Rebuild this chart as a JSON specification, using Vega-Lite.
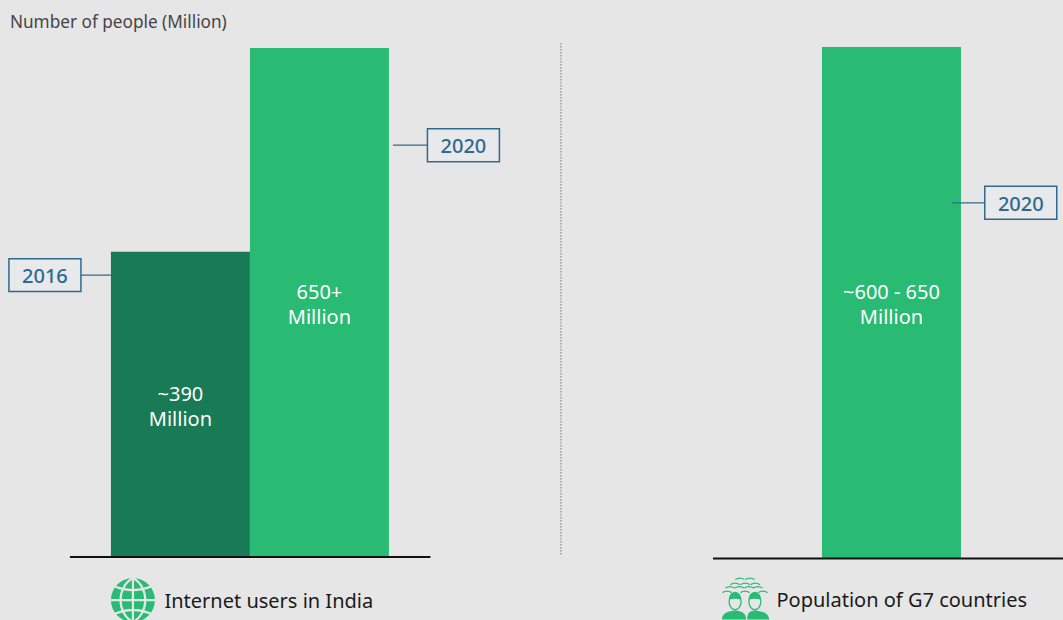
{
  "$schema": "https://vega.github.io/schema/vega-lite/v6.json",
  "background": "#e6e6e6",
  "padding": 0,
  "spacing": 90,
  "bounds": "flush",
  "config": {
    "view": {"stroke": null},
    "axis": {"disable": true},
    "text": {"font": "Noto Sans"}
  },
  "datasets": {
    "india": [
      {"year": "2016", "value": 390, "anchor": 207.5, "callout": 360, "label": "~390\nMillion"},
      {"year": "2020", "value": 650, "anchor": 337.5, "callout": 526, "label": "650+\nMillion"}
    ],
    "g7": [
      {"year": "2020", "value": 650, "anchor": 337.5, "callout": 452, "label": "~600 - 650\nMillion"}
    ]
  },
  "hconcat": [
    {
      "width": 556,
      "height": 620,
      "data": {"name": "india"},
      "encoding": {
        "x": {"field": "year", "type": "nominal", "axis": null, "sort": null,
          "scale": {"domain": ["2016", "2020"], "paddingInner": 0, "paddingOuter": 1, "align": 0.399}},
        "y": {"type": "quantitative", "axis": null,
          "scale": {"domain": [-80.46, 711.37], "nice": false, "zero": false}}
      },
      "layer": [
        {
          "mark": {"type": "bar", "width": {"band": 1}},
          "encoding": {
            "y": {"field": "value", "type": "quantitative", "axis": null},
            "color": {"field": "year", "type": "nominal", "legend": null,
              "scale": {"domain": ["2016", "2020"], "range": ["#197a56", "#29ba74"]}}
          }
        },
        {
          "mark": {"type": "text", "color": "#ffffff", "fontSize": 20, "lineBreak": "\n", "lineHeight": 25, "baseline": "middle"},
          "encoding": {
            "y": {"field": "anchor", "type": "quantitative", "axis": null},
            "text": {"field": "label"}
          }
        },
        {
          "transform": [{"filter": "datum.year === '2016'"}],
          "mark": {"type": "rule", "color": "#2e6a8e", "strokeWidth": 1.2, "xOffset": -99.5, "x2Offset": -67},
          "encoding": {
            "x2": {"field": "year"},
            "y": {"field": "callout", "type": "quantitative", "axis": null}
          }
        },
        {
          "transform": [{"filter": "datum.year === '2020'"}],
          "mark": {"type": "rule", "color": "#2e6a8e", "strokeWidth": 1.2, "xOffset": 73.5, "x2Offset": 108.5},
          "encoding": {
            "x2": {"field": "year"},
            "y": {"field": "callout", "type": "quantitative", "axis": null}
          }
        },
        {
          "transform": [{"filter": "datum.year === '2016'"}],
          "mark": {"type": "point", "shape": "M-1,-0.458H1V0.458H-1Z", "size": 5184, "filled": true, "fill": "#e7e9ea", "stroke": "#2e6a8e", "strokeWidth": 1.5, "opacity": 1, "xOffset": -135.5},
          "encoding": {"y": {"field": "callout", "type": "quantitative", "axis": null}}
        },
        {
          "transform": [{"filter": "datum.year === '2020'"}],
          "mark": {"type": "point", "shape": "M-1,-0.458H1V0.458H-1Z", "size": 5184, "filled": true, "fill": "#e7e9ea", "stroke": "#2e6a8e", "strokeWidth": 1.5, "opacity": 1, "xOffset": 144},
          "encoding": {"y": {"field": "callout", "type": "quantitative", "axis": null}}
        },
        {
          "transform": [{"filter": "datum.year === '2016'"}],
          "mark": {"type": "text", "color": "#2e6a8e", "fontSize": 20, "fontWeight": 500, "baseline": "middle", "dy": 2, "xOffset": -135.5},
          "encoding": {"y": {"field": "callout", "type": "quantitative", "axis": null}, "text": {"field": "year"}}
        },
        {
          "transform": [{"filter": "datum.year === '2020'"}],
          "mark": {"type": "text", "color": "#2e6a8e", "fontSize": 20, "fontWeight": 500, "baseline": "middle", "dy": 2, "xOffset": 144},
          "encoding": {"y": {"field": "callout", "type": "quantitative", "axis": null}, "text": {"field": "year"}}
        },
        {
          "data": {"values": [{"from": "2016", "to": "2020", "level": 0}]},
          "mark": {"type": "rule", "color": "#111111", "strokeWidth": 2, "xOffset": -110.5, "x2Offset": 111},
          "encoding": {
            "x": {"field": "from", "type": "nominal"},
            "x2": {"field": "to"},
            "y": {"field": "level", "type": "quantitative", "axis": null}
          }
        },
        {
          "data": {"values": [{"year": "2020", "top": 656.4, "bottom": 2.5}]},
          "mark": {"type": "rule", "color": "#777777", "strokeWidth": 1, "strokeDash": [1.5, 1.5], "xOffset": 241.5},
          "encoding": {
            "y": {"field": "top", "type": "quantitative", "axis": null},
            "y2": {"field": "bottom"}
          }
        },
        {
          "data": {"values": [{"year": "2016", "at": 682, "note": "Number of people (Million)"}]},
          "mark": {"type": "text", "color": "#444444", "fontSize": 17.2, "align": "left", "baseline": "middle", "xOffset": -170.5},
          "encoding": {"y": {"field": "at", "type": "quantitative", "axis": null}, "text": {"field": "note"}}
        },
        {
          "data": {"values": [{"year": "2016", "at": -58, "caption": "Internet users in India"}]},
          "mark": {"type": "text", "color": "#1a1a1a", "fontSize": 20, "align": "left", "baseline": "middle", "xOffset": -16},
          "encoding": {"y": {"field": "at", "type": "quantitative", "axis": null}, "text": {"field": "caption"}}
        },
        {
          "data": {"values": [{"year": "2016", "at": -55}]},
          "mark": {"type": "point", "shape": "circle", "filled": true, "fill": "#29ba74", "opacity": 1, "size": 1936, "xOffset": -47.5, "clip": true},
          "encoding": {"y": {"field": "at", "type": "quantitative", "axis": null}}
        },
        {
          "data": {"values": [{"year": "2016", "at": -55}]},
          "mark": {"type": "point", "shape": "M0,-1V1M-1,0H1M0,-1C-0.75,-0.6,-0.75,0.6,0,1M0,-1C0.75,-0.6,0.75,0.6,0,1M-0.82,-0.62Q0,-0.28,0.82,-0.62M-0.82,0.62Q0,0.28,0.82,0.62", "filled": false, "stroke": "#e6e6e6", "strokeWidth": 2.2, "opacity": 1, "size": 1936, "xOffset": -47.5, "clip": true},
          "encoding": {"y": {"field": "at", "type": "quantitative", "axis": null}}
        }
      ]
    },
    {
      "width": 417,
      "height": 620,
      "data": {"name": "g7"},
      "encoding": {
        "x": {"field": "year", "type": "nominal", "axis": null,
          "scale": {"domain": ["2020"], "paddingInner": 0, "paddingOuter": 1, "align": 0.633}},
        "y": {"type": "quantitative", "axis": null,
          "scale": {"domain": [-78.15, 709.66], "nice": false, "zero": false}}
      },
      "layer": [
        {
          "mark": {"type": "bar", "color": "#29ba74", "width": {"band": 1}},
          "encoding": {"y": {"field": "value", "type": "quantitative", "axis": null}}
        },
        {
          "mark": {"type": "text", "color": "#ffffff", "fontSize": 20, "lineBreak": "\n", "lineHeight": 25, "baseline": "middle"},
          "encoding": {"y": {"field": "anchor", "type": "quantitative", "axis": null}, "text": {"field": "label"}}
        },
        {
          "mark": {"type": "rule", "color": "#2e6a8e", "strokeWidth": 1.2, "xOffset": 60.5, "x2Offset": 93.5},
          "encoding": {"x2": {"field": "year"}, "y": {"field": "callout", "type": "quantitative", "axis": null}}
        },
        {
          "mark": {"type": "point", "shape": "M-1,-0.458H1V0.458H-1Z", "size": 5184, "filled": true, "fill": "#e7e9ea", "stroke": "#2e6a8e", "strokeWidth": 1.5, "opacity": 1, "xOffset": 129.3},
          "encoding": {"y": {"field": "callout", "type": "quantitative", "axis": null}}
        },
        {
          "mark": {"type": "text", "color": "#2e6a8e", "fontSize": 20, "fontWeight": 500, "baseline": "middle", "dy": 2, "xOffset": 129.3},
          "encoding": {"y": {"field": "callout", "type": "quantitative", "axis": null}, "text": {"field": "year"}}
        },
        {
          "data": {"values": [{"year": "2020", "level": 0}]},
          "mark": {"type": "rule", "color": "#111111", "strokeWidth": 2, "xOffset": -178.5, "x2Offset": 171.5},
          "encoding": {"x2": {"field": "year"}, "y": {"field": "level", "type": "quantitative", "axis": null}}
        },
        {
          "data": {"values": [{"year": "2020", "at": -54, "caption": "Population of G7 countries"}]},
          "mark": {"type": "text", "color": "#1a1a1a", "fontSize": 20, "align": "left", "baseline": "middle", "xOffset": -115},
          "encoding": {"y": {"field": "at", "type": "quantitative", "axis": null}, "text": {"field": "caption"}}
        },
        {
          "data": {"values": [{"year": "2020", "at": -51}]},
          "mark": {"type": "point", "shape": "M-1,0.91C-1,0.6,-0.7,0.55,-0.43,0.5C-0.15,0.55,0.05,0.6,0.05,0.91ZM0.1,0.91C0.1,0.6,0.2,0.55,0.43,0.5C0.7,0.55,1.05,0.6,1.05,0.91ZM-0.7,0.05A0.27,0.35,0,0,1,-0.16,0.05Q-0.43,-0.05,-0.7,0.05ZM0.16,0.05A0.27,0.35,0,0,1,0.7,0.05Q0.43,-0.05,0.16,0.05Z", "filled": true, "fill": "#29ba74", "opacity": 1, "size": 2116, "xOffset": -146.5, "clip": true},
          "encoding": {"y": {"field": "at", "type": "quantitative", "axis": null}}
        },
        {
          "data": {"values": [{"year": "2020", "at": -51}]},
          "mark": {"type": "point", "shape": "M-0.42,-0.83Q-0.22,-0.96,-0.02,-0.83M0.02,-0.83Q0.22,-0.96,0.42,-0.83M-0.63,-0.61Q-0.43,-0.74,-0.23,-0.61M-0.19,-0.61Q0.01,-0.74,0.21,-0.61M0.25,-0.61Q0.45,-0.74,0.65,-0.61M-0.85,-0.46Q-0.65,-0.59,-0.45,-0.46M-0.44,-0.46Q-0.24,-0.59,-0.04,-0.46M-0.02,-0.46Q0.18,-0.59,0.38,-0.46M0.36,-0.46Q0.56,-0.59,0.76,-0.46M-0.98,-0.26Q-0.78,-0.39,-0.58,-0.26M-0.2,-0.26Q0,-0.39,0.2,-0.26M0.58,-0.26Q0.78,-0.39,0.98,-0.26M-0.69,0.13A0.26,0.35,0,1,1,-0.17,0.13A0.26,0.35,0,1,1,-0.69,0.13ZM0.17,0.13A0.26,0.35,0,1,1,0.69,0.13A0.26,0.35,0,1,1,0.17,0.13Z", "filled": false, "stroke": "#29ba74", "strokeWidth": 1.3, "opacity": 1, "size": 2116, "xOffset": -146.5, "clip": true},
          "encoding": {"y": {"field": "at", "type": "quantitative", "axis": null}}
        }
      ]
    }
  ]
}
